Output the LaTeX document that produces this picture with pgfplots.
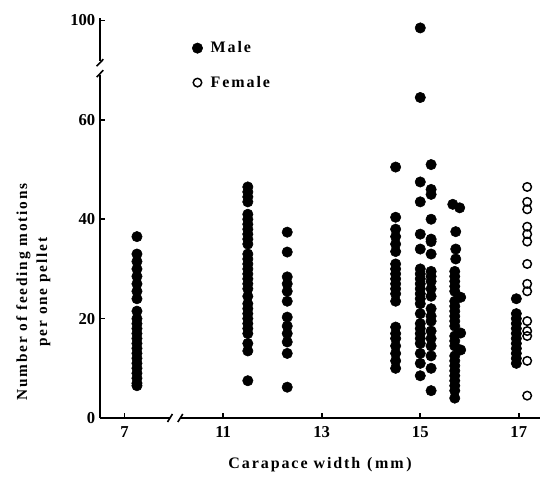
\documentclass[border=0pt]{standalone}
\usepackage{pgfplots}
\pgfplotsset{compat=1.18}
\usepackage{fontspec}
\setmainfont{Liberation Serif}
\begin{document}
\begin{tikzpicture}
\begin{axis}[
  scale only axis, width=330pt, height=300pt,
  xmin=8.5, xmax=17.43, ymin=0, ymax=80.5,
  axis lines=left, axis line style={-, line width=1.3pt},
  clip=false,
  xtick={9,11,13,15,17}, xticklabels={7,11,13,15,17},
  ytick={0,20,40,60,80}, yticklabels={0,20,40,60,100},
  tick style={line width=1.2pt, black}, major tick length=4pt,
  tick align=inside,
  /pgf/number format/assume math mode=true,
  ticklabel style={font=\fontsize{12.5}{14}\selectfont\bfseries},
  xticklabel style={yshift=-3pt},
  xlabel={Carapace width\hspace{5pt}(\hspace{2pt}mm\hspace{2pt})},
  xlabel style={font=\fontsize{12}{14}\selectfont\bfseries\addfontfeature{LetterSpace=12}, yshift=-8pt},
  ylabel={Number of feeding motions\\per one pellet},
  ylabel style={align=center, font=\fontsize{11.5}{15}\selectfont\bfseries\addfontfeature{LetterSpace=12},
    at={(ticklabel cs:0.315)}, yshift=8pt},
  legend style={draw=none, fill=none, at={(rel axis cs:0.2,0.955)}, anchor=north west,
    font=\fontsize{12}{14}\selectfont\bfseries\addfontfeature{LetterSpace=12}, row sep=12pt},
  legend cell align=left,
]
\coordinate (sw) at (rel axis cs:0,0);
\coordinate (ne) at (rel axis cs:1,1);
% Male (filled)
\addplot[only marks, mark=*, mark size=3.9pt, black] coordinates {
 % 7 mm (plotted at 9.25)
 (9.25,36.5)(9.25,33)(9.25,31.5)(9.25,30)(9.25,28.5)(9.25,27)(9.25,25.5)(9.25,24)
 (9.25,21.5)(9.25,20)(9.25,19)(9.25,18)(9.25,17)(9.25,16)(9.25,15)(9.25,14)
 (9.25,13)(9.25,12)(9.25,11)(9.25,10)(9.25,9)(9.25,8)(9.25,7)(9.25,6.5)
 % 11.5
 (11.5,46.5)(11.5,45.5)(11.5,44.5)(11.5,43.5)(11.5,41)(11.5,40)(11.5,39)(11.5,38)
 (11.5,37)(11.5,36)(11.5,35)(11.5,33)(11.5,32)(11.5,31)(11.5,30)(11.5,29)(11.5,28)
 (11.5,27)(11.5,26)(11.5,24.5)(11.5,23)(11.5,22)(11.5,21)(11.5,20)(11.5,19)(11.5,18)
 (11.5,17)(11.5,15)(11.5,13.5)(11.5,7.5)
 % 12.3
 (12.3,37.4)(12.3,33.4)(12.3,28.4)(12.3,27)(12.3,25.5)(12.3,23.5)(12.3,20.3)
 (12.3,18.5)(12.3,17)(12.3,15.3)(12.3,13)(12.3,6.2)
 % 14.5
 (14.5,50.5)(14.5,40.4)(14.5,38)(14.5,36.5)(14.5,35)(14.5,33.5)(14.5,31)(14.5,30)
 (14.5,29)(14.5,28)(14.5,27)(14.5,26)(14.5,25)(14.5,23.5)(14.5,18.3)(14.5,17)
 (14.5,16)(14.5,14.5)(14.5,13)(14.5,11.5)(14.5,10)
 % 15.0
 (15.0,78.5)(15.0,64.5)
 (15.0,47.5)(15.0,43.5)(15.0,37)(15.0,34)(15.0,30)(15.0,29)(15.0,28)(15.0,27)
 (15.0,26)(15.0,25)(15.0,24)(15.0,23)(15.0,21)(15.0,19)(15.0,18)(15.0,17)
 (15.0,16)(15.0,15)(15.0,13)(15.0,11)(15.0,8.5)
 % 15.2
 (15.22,51)(15.22,46)(15.22,45)(15.22,40)(15.22,36)(15.22,35.5)(15.22,33)(15.22,29.5)
 (15.22,28.5)(15.22,27.5)(15.22,26)(15.22,24.5)(15.22,22)(15.22,20.5)(15.22,19.5)
 (15.22,17.5)(15.22,16)(15.22,14.5)(15.22,12.5)(15.22,10)(15.22,5.5)
 % 15.7
 (15.66,43)(15.8,42.3)(15.72,37.5)(15.72,34)(15.72,32)(15.7,29.5)(15.7,28.5)
 (15.7,27.5)(15.7,26.5)(15.7,25.5)(15.82,24.3)(15.7,23.5)(15.7,22.5)(15.7,21.5)
 (15.7,20.5)(15.7,19.5)(15.7,18.5)(15.82,17.1)(15.7,16.5)(15.7,15.5)(15.7,14.5)
 (15.82,13.7)(15.7,12.5)(15.7,11.5)(15.7,10.5)(15.7,9.5)(15.7,8.5)(15.7,7.5)
 (15.7,6.5)(15.7,5.5)(15.7,4)
 % 17 (male)
 (16.95,24)(16.95,21)(16.95,20)(16.95,19)(16.95,18)(16.95,17)(16.95,16)(16.95,15)
 (16.95,14)(16.95,13)(16.95,12)(16.95,11)
};
\addlegendentry{\hspace{4pt}Male}
% Female (open)
\addplot[only marks, mark=o, mark size=3.2pt, mark options={line width=1.1pt}, black] coordinates {
 (17.17,46.5)(17.17,43.5)(17.17,42)(17.17,38.5)(17.17,37)(17.17,35.5)(17.17,31)
 (17.17,27)(17.17,25.5)(17.17,19.5)(17.17,17.5)(17.17,16.5)(17.17,11.5)(17.17,4.5)
};
\addlegendentry{\hspace{4pt}Female}
% axis breaks
\fill[white] ([xshift=-3pt]axis cs:8.5,69.0) rectangle ([xshift=3pt]axis cs:8.5,71.8);
\draw[line width=1.2pt] ([xshift=-2.5pt]axis cs:8.5,68.6) -- ([xshift=2.5pt]axis cs:8.5,70.0);
\draw[line width=1.2pt] ([xshift=-2.5pt]axis cs:8.5,70.8) -- ([xshift=2.5pt]axis cs:8.5,72.2);
\fill[white] ([yshift=-3pt]axis cs:9.93,0) rectangle ([yshift=3pt]axis cs:10.12,0);
\draw[line width=1.2pt] ([yshift=-3pt]axis cs:9.87,0) -- ([yshift=3pt]axis cs:9.97,0);
\draw[line width=1.2pt] ([yshift=-3pt]axis cs:10.08,0) -- ([yshift=3pt]axis cs:10.18,0);
\end{axis}
\pgfresetboundingbox
\path ([shift={(-75pt,-44pt)}]sw) rectangle ([shift={(6pt,13.5pt)}]ne);
\end{tikzpicture}
\end{document}
